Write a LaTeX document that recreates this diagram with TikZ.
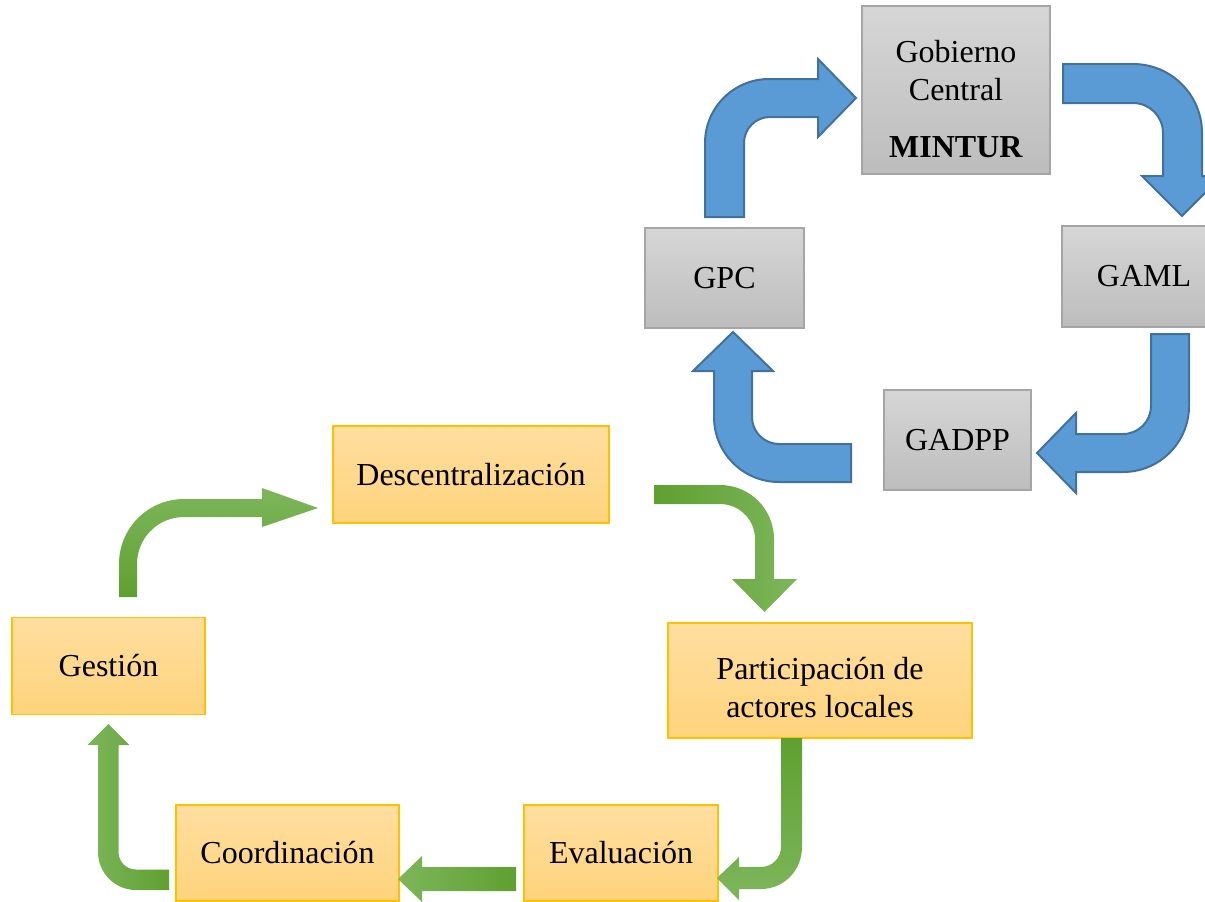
\documentclass[tikz,border=0pt]{standalone}
\usepackage{fontspec}
\setmainfont{Liberation Serif}
\definecolor{grayTop}{HTML}{D6D6D6}
\definecolor{grayBot}{HTML}{BDBDBD}
\definecolor{grayBorder}{HTML}{A5A5A5}
\definecolor{orTop}{HTML}{FFDE9F}
\definecolor{orBot}{HTML}{FED37C}
\definecolor{orBorder}{HTML}{FFC000}
\definecolor{blueFill}{HTML}{5B9BD5}
\definecolor{blueBorder}{HTML}{41719C}
\definecolor{gDark}{HTML}{5FA030}
\definecolor{gLight}{HTML}{7DB65B}
\tikzset{
  txt/.style={font=\fontsize{32}{38}\selectfont, inner sep=0pt, align=center},
  gbox/.style={txt, draw=grayBorder, line width=1.5pt, top color=grayTop, bottom color=grayBot},
  obox/.style={txt, draw=orBorder, line width=1.5pt, top color=orTop, bottom color=orBot},
  barrow/.style={fill=blueFill, draw=blueBorder, line width=2pt, line join=miter},
}
\begin{document}
\begin{tikzpicture}[x=1pt,y=-1pt]
\useasboundingbox (0,0) rectangle (1205,902);

% gray boxes
\node[gbox, minimum width=188pt, minimum height=168pt] (gob) at (956,90) {};
\node[txt] (gobtxt) at (956,99.5) {Gobierno\\Central\\[19pt]\textbf{MINTUR}};
\node[gbox, minimum width=159pt, minimum height=100pt] (gpc) at (724.5,278) {GPC};
\node[gbox, minimum width=164pt, minimum height=101pt] (gaml) at (1144,276.5) {GAML};
\node[gbox, minimum width=147pt, minimum height=100pt] (gadpp) at (957.5,440) {GADPP};

% orange boxes
\node[obox, minimum width=276pt, minimum height=97pt] (desc) at (471,474.5) {Descentralización};
\node[obox, minimum width=304pt, minimum height=115pt] (part) at (820,680.5) {};
\node[txt] (parttxt) at (820,687.5) {Participación de\\actores locales};
\node[obox, minimum width=193pt, minimum height=97pt] (gest) at (108.5,666) {Gestión};
\node[obox, minimum width=223pt, minimum height=96pt] (coord) at (287.5,853) {Coordinación};
\node[obox, minimum width=194pt, minimum height=96pt] (eval) at (621,853) {Evaluación};

% blue arrows
% GPC -> Gobierno Central
\path[barrow] (705,217) -- (705,143) .. controls (705,107.7) and (733.7,79) .. (769,79)
  -- (818,79) -- (818,59) -- (856,98) -- (818,137) -- (818,117) -- (770,117)
  .. controls (755.6,117) and (744,128.6) .. (744,143) -- (744,217) -- cycle;
% Gobierno Central -> GAML
\path[barrow] (1063,64) -- (1133,64) .. controls (1171.1,64) and (1202,94.9) .. (1202,133)
  -- (1202,176) -- (1222,176) -- (1182,216) -- (1142,176) -- (1163,176) -- (1163,133)
  .. controls (1163,116.4) and (1149.6,103) .. (1133,103) -- (1063,103) -- cycle;
% GAML -> GADPP
\path[barrow] (1151,334) -- (1189,334) -- (1189,406) .. controls (1189,442.5) and (1159.5,472) .. (1123,472)
  -- (1076,472) -- (1076,493) -- (1037,453) -- (1076,413) -- (1076,434) -- (1123,434)
  .. controls (1138.5,434) and (1151,421.5) .. (1151,406) -- cycle;
% GADPP -> GPC
\path[barrow] (851,444) -- (779,444) .. controls (764.1,444) and (752,431.9) .. (752,417)
  -- (752,371) -- (773,371) -- (733,332) -- (693,371) -- (714,371) -- (714,417)
  .. controls (714,452.9) and (743.1,482) .. (779,482) -- (851,482) -- cycle;

% green arrows
% Gestion -> Descentralizacion
\path[bottom color=gDark, top color=gLight] (119,597) -- (119,564) .. controls (119,528.1) and (148.1,499) .. (184,499)
  -- (262,499) -- (262,488) -- (318,508) -- (262,527) -- (262,517) -- (184,517)
  .. controls (158,517) and (137,538) .. (137,564) -- (137,597) -- cycle;
% Descentralizacion -> Participacion
\path[left color=gDark, right color=gLight] (654,485) -- (720,485) .. controls (749.8,485) and (774,509.2) .. (774,539)
  -- (774,579) -- (797,579) -- (764.5,612) -- (732,579) -- (755,579) -- (755,539)
  .. controls (755,519.7) and (739.3,504) .. (720,504) -- (654,504) -- cycle;
% Participacion -> Evaluacion
\path[top color=gDark, bottom color=gLight] (781,738) -- (802,738) -- (802,847) .. controls (802,870.2) and (784.2,889) .. (761,889)
  -- (739,889) -- (739,900) -- (717,878) -- (739,857) -- (739,867) -- (761,867)
  .. controls (772,867) and (781,858) .. (781,847) -- cycle;
% Evaluacion -> Coordinacion
\path[right color=gDark, left color=gLight] (516,867) -- (422,867) -- (422,856) -- (398,879) -- (422,902) -- (422,891) -- (516,891) -- cycle;
% Coordinacion -> Gestion
\path[right color=gDark, left color=gLight] (169,869.5) -- (136,869.5) .. controls (126.3,869.5) and (118.5,861.7) .. (118.5,852)
  -- (118.5,745) -- (129.5,745) -- (108.3,724) -- (87.5,745) -- (98,745) -- (98,852)
  .. controls (98,873) and (115,890) .. (136,890) -- (169,890) -- cycle;
\end{tikzpicture}
\end{document}
